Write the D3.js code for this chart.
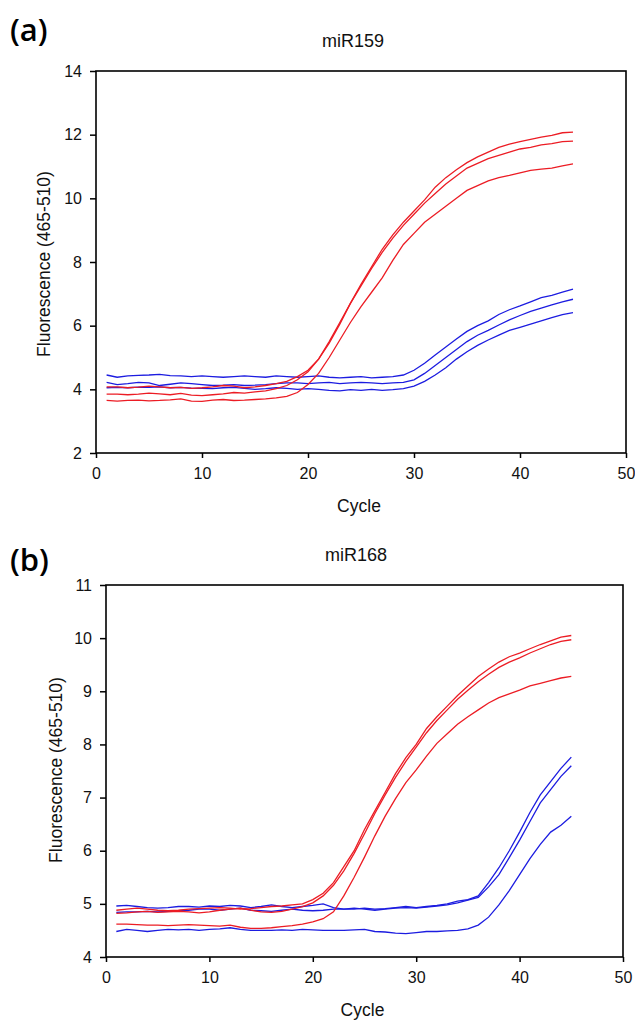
<!DOCTYPE html>
<html>
<head>
<meta charset="utf-8">
<script src="https://cdn.jsdelivr.net/npm/d3@7"></script>
<style>
    body { margin: 0; background: #fff; }
    svg { display: block; font-family: "Liberation Sans", Arial, sans-serif; }
    .axis line { stroke: #000; stroke-width: 1.5; }
    .axis path { display: none; }
    .axis text { font-size: 16px; fill: #111; font-family: "Liberation Sans", Arial, sans-serif; }
    .frame { fill: none; stroke: #000; stroke-width: 1.6; }
    .curve { fill: none; stroke-width: 1.3; }
</style>
</head>
<body>
<div id="chart"></div>
<script>
// cycles 1..45
var cycles = [1,2,3,4,5,6,7,8,9,10,11,12,13,14,15,16,17,18,19,20,21,22,23,24,25,26,27,28,29,30,31,32,33,34,35,36,37,38,39,40,41,42,43,44,45];

// (a) miR159
var aRed1 = [4.08,4.08,4.05,4.07,4.10,4.08,4.05,4.06,4.03,4.05, 4.08,4.12,4.10,4.05,4.08,4.12,4.18,4.25,4.40,4.60, 4.95,5.45,6.05,6.70,7.30,7.85,8.40,8.85,9.25,9.60, 9.95,10.35,10.65,10.90,11.12,11.30,11.45,11.60,11.70,11.78, 11.85,11.92,11.98,12.06,12.08];
var aRed2 = [3.85,3.85,3.83,3.85,3.88,3.86,3.83,3.87,3.82,3.80, 3.83,3.86,3.90,3.88,3.92,3.95,4.02,4.12,4.30,4.55, 4.95,5.50,6.10,6.70,7.25,7.80,8.30,8.75,9.15,9.50, 9.85,10.15,10.45,10.70,10.95,11.10,11.25,11.35,11.45,11.55, 11.60,11.68,11.72,11.78,11.80];
var aRed3 = [3.65,3.63,3.65,3.66,3.64,3.65,3.67,3.70,3.63,3.62, 3.66,3.68,3.65,3.66,3.68,3.70,3.73,3.78,3.90,4.15, 4.50,5.00,5.55,6.10,6.60,7.05,7.50,8.05,8.55,8.90, 9.25,9.50,9.75,10.00,10.25,10.40,10.55,10.65,10.72,10.80, 10.88,10.92,10.95,11.02,11.08];
var aBlue1 = [4.45,4.38,4.42,4.44,4.45,4.47,4.43,4.42,4.40,4.42, 4.40,4.38,4.40,4.42,4.40,4.38,4.42,4.40,4.38,4.40, 4.42,4.38,4.36,4.38,4.40,4.36,4.38,4.40,4.45,4.60, 4.82,5.08,5.33,5.58,5.82,6.00,6.15,6.35,6.50,6.62, 6.75,6.88,6.95,7.05,7.15];
var aBlue2 = [4.22,4.15,4.18,4.22,4.20,4.12,4.16,4.20,4.18,4.15, 4.12,4.13,4.15,4.12,4.13,4.15,4.18,4.20,4.20,4.18, 4.20,4.22,4.18,4.20,4.22,4.20,4.18,4.20,4.22,4.30, 4.50,4.75,5.00,5.25,5.50,5.70,5.85,6.02,6.18,6.32, 6.45,6.55,6.65,6.75,6.83];
var aBlue3 = [4.05,4.06,4.05,4.07,4.06,4.08,4.05,4.06,4.04,4.03, 4.02,4.05,4.06,4.03,4.00,4.02,4.05,4.03,4.00,4.02, 4.00,3.97,3.95,3.99,3.97,4.00,3.97,3.99,4.02,4.10, 4.25,4.45,4.68,4.95,5.18,5.38,5.55,5.70,5.85,5.95, 6.05,6.15,6.25,6.35,6.41];

// (b) miR168
var bRed1 = [4.88,4.90,4.92,4.90,4.88,4.87,4.88,4.90,4.91,4.92, 4.93,4.92,4.90,4.91,4.93,4.95,4.96,4.98,5.00,5.08, 5.20,5.40,5.70,6.00,6.40,6.75,7.10,7.45,7.75,8.00, 8.30,8.52,8.72,8.92,9.10,9.28,9.42,9.55,9.65,9.72, 9.80,9.88,9.95,10.02,10.05];
var bRed2 = [4.82,4.83,4.85,4.86,4.84,4.85,4.86,4.85,4.83,4.85, 4.88,4.90,4.92,4.88,4.85,4.84,4.86,4.90,4.95,5.02, 5.15,5.35,5.62,5.95,6.32,6.70,7.05,7.38,7.68,7.95, 8.22,8.45,8.65,8.85,9.02,9.18,9.32,9.45,9.55,9.63, 9.72,9.80,9.88,9.94,9.97];
var bRed3 = [4.62,4.62,4.61,4.60,4.60,4.59,4.60,4.61,4.60,4.59, 4.58,4.60,4.56,4.54,4.54,4.55,4.57,4.59,4.62,4.66, 4.72,4.85,5.15,5.50,5.88,6.28,6.65,6.98,7.28,7.52, 7.78,8.02,8.20,8.38,8.52,8.65,8.78,8.88,8.95,9.02, 9.10,9.15,9.20,9.25,9.28];
var bBlue1 = [4.96,4.97,4.95,4.93,4.92,4.93,4.95,4.95,4.94,4.96, 4.95,4.97,4.96,4.93,4.95,4.98,4.95,4.93,4.95,4.97, 5.00,4.93,4.90,4.90,4.92,4.90,4.91,4.93,4.95,4.93, 4.95,4.97,5.00,5.05,5.08,5.15,5.40,5.68,6.00,6.35, 6.72,7.05,7.30,7.55,7.76];
var bBlue2 = [4.84,4.85,4.85,4.86,4.85,4.86,4.87,4.88,4.90,4.90, 4.88,4.90,4.92,4.88,4.87,4.86,4.88,4.90,4.88,4.87, 4.88,4.90,4.90,4.92,4.90,4.88,4.90,4.92,4.93,4.92, 4.94,4.96,4.98,5.02,5.07,5.12,5.32,5.55,5.87,6.20, 6.55,6.90,7.15,7.40,7.60];
var bBlue3 = [4.48,4.52,4.50,4.48,4.50,4.52,4.51,4.52,4.50,4.52, 4.53,4.55,4.52,4.50,4.50,4.50,4.51,4.50,4.52,4.51, 4.50,4.50,4.50,4.51,4.52,4.48,4.47,4.45,4.44,4.46, 4.48,4.48,4.49,4.50,4.53,4.60,4.75,4.98,5.25,5.55, 5.85,6.12,6.35,6.48,6.65];

// tick labels
var xTicks = [0, 10, 20, 30, 40, 50];
var aYTicks = [2, 4, 6, 8, 10, 12, 14];
var bYTicks = [4, 5, 6, 7, 8, 9, 10, 11];

var red = "#ec1c24";
var blue = "#1c1ce0";

var svg = d3.select("#chart").append("svg")
    .attr("width", 635)
    .attr("height", 1021);

QpcrPanel = function(_svg, _opts) {
    var vis = this;
    vis.svg = _svg;
    vis.opts = _opts;
    vis.initVis();
};

QpcrPanel.prototype.initVis = function() {
    var vis = this;
    var o = vis.opts;

    vis.x = d3.scaleLinear().domain([0, 50]).range([o.left, o.right]);
    vis.y = d3.scaleLinear().domain(o.yDomain).range([o.bottom, o.top]);

    // panel letter
    vis.svg.append("text")
        .attr("x", 10)
        .attr("y", o.letterY)
        .attr("font-family", "'Open Sans', sans-serif")
        .attr("font-weight", 600)
        .attr("font-size", "31px")
        .attr("fill", "#000")
        .text(o.letter);

    // title
    vis.svg.append("text")
        .attr("x", o.titleX)
        .attr("y", o.top - 24)
        .attr("text-anchor", "middle")
        .attr("font-size", "18px")
        .attr("fill", "#111")
        .text(o.title);

    // curves
    var line = d3.line()
        .x(function(d) { return vis.x(d.c); })
        .y(function(d) { return vis.y(d.v); });

    o.series.forEach(function(s) {
        var pts = cycles.map(function(c, i) { return { c: c, v: s.values[i] }; });
        vis.svg.append("path")
            .datum(pts)
            .attr("class", "curve")
            .attr("stroke", s.color)
            .attr("d", line);
    });

    // frame
    vis.svg.append("rect")
        .attr("class", "frame")
        .attr("x", o.left)
        .attr("y", o.top)
        .attr("width", o.right - o.left)
        .attr("height", o.bottom - o.top);

    // axes
    vis.svg.append("g")
        .attr("class", "axis")
        .attr("transform", "translate(0," + o.bottom + ")")
        .call(d3.axisBottom(vis.x).tickValues(xTicks).tickFormat(d3.format("d"))
            .tickSize(5).tickPadding(10).tickSizeOuter(0));

    vis.svg.append("g")
        .attr("class", "axis")
        .attr("transform", "translate(" + o.left + ",0)")
        .call(d3.axisLeft(vis.y).tickValues(o.yTicks).tickFormat(d3.format("d"))
            .tickSize(6).tickPadding(8).tickSizeOuter(0));

    // axis labels
    vis.svg.append("text")
        .attr("x", (o.left + o.right) / 2 - 2)
        .attr("y", o.bottom + 59)
        .attr("text-anchor", "middle")
        .attr("font-size", "17.5px")
        .attr("fill", "#111")
        .text("Cycle");

    vis.svg.append("text")
        .attr("transform", "translate(" + o.yLabelX + "," + o.yLabelY + ") rotate(-90)")
        .attr("text-anchor", "middle")
        .attr("font-size", "17.5px")
        .attr("fill", "#111")
        .text("Fluorescence (465-510)");
};

new QpcrPanel(svg, {
    letter: "(a)", letterY: 41, title: "miR159", titleX: 353,
    left: 96, right: 626, top: 71, bottom: 453,
    yDomain: [2, 14], yTicks: aYTicks,
    yLabelX: 50, yLabelY: 264,
    series: [
        { values: aBlue1, color: blue }, { values: aBlue2, color: blue }, { values: aBlue3, color: blue },
        { values: aRed1, color: red }, { values: aRed2, color: red }, { values: aRed3, color: red }
    ]
});

new QpcrPanel(svg, {
    letter: "(b)", letterY: 571, title: "miR168", titleX: 356,
    left: 106, right: 623, top: 585, bottom: 957,
    yDomain: [4, 11], yTicks: bYTicks,
    yLabelX: 62, yLabelY: 770,
    series: [
        { values: bBlue1, color: blue }, { values: bBlue2, color: blue }, { values: bBlue3, color: blue },
        { values: bRed1, color: red }, { values: bRed2, color: red }, { values: bRed3, color: red }
    ]
});
</script>
</body>
</html>
